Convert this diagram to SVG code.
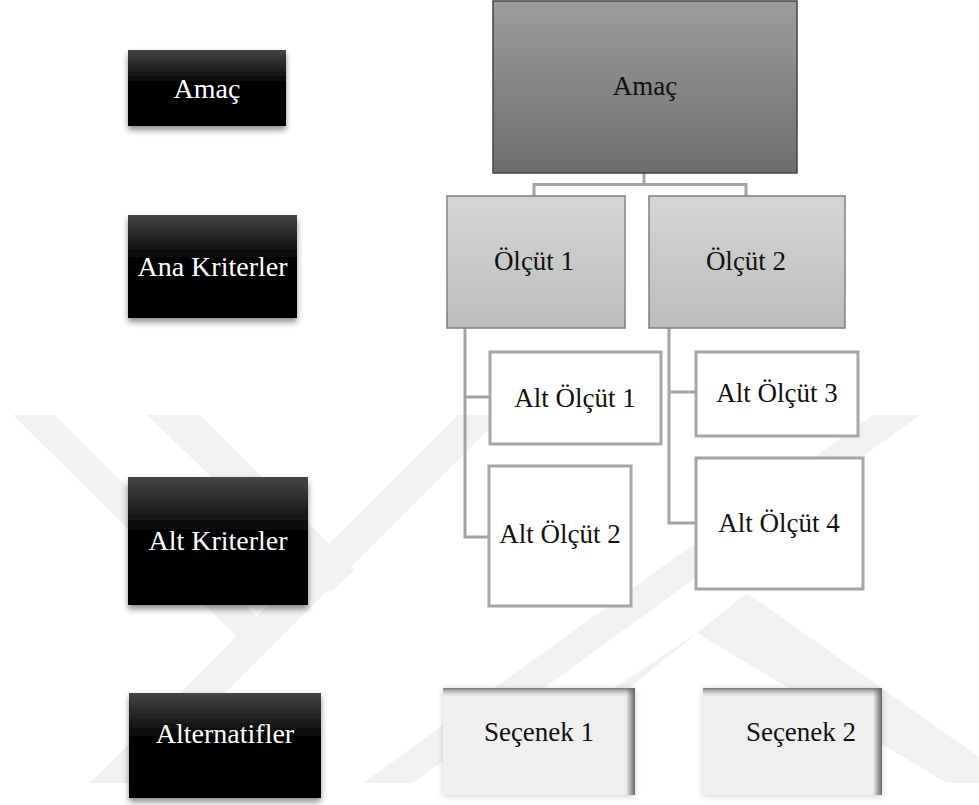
<svg xmlns="http://www.w3.org/2000/svg" width="979" height="805" viewBox="0 0 979 805">
<defs>
<linearGradient id="gBlack" x1="0" y1="0" x2="0" y2="1">
<stop offset="0" stop-color="#464646"/>
<stop offset="0.45" stop-color="#000"/>
<stop offset="1" stop-color="#000"/>
</linearGradient>
<linearGradient id="gTop" x1="0" y1="0" x2="0" y2="1">
<stop offset="0" stop-color="#9c9c9c"/>
<stop offset="1" stop-color="#6e6e6e"/>
</linearGradient>
<linearGradient id="gMid" x1="0" y1="0" x2="0" y2="1">
<stop offset="0" stop-color="#d6d6d6"/>
<stop offset="1" stop-color="#bcbcbc"/>
</linearGradient>
<linearGradient id="gInTop" x1="0" y1="0" x2="0" y2="1">
<stop offset="0" stop-color="#777" stop-opacity="1"/>
<stop offset="1" stop-color="#efefef" stop-opacity="0"/>
</linearGradient>
<linearGradient id="gInRight" x1="0" y1="0" x2="1" y2="0">
<stop offset="0" stop-color="#666" stop-opacity="0"/>
<stop offset="1" stop-color="#666" stop-opacity="1"/>
</linearGradient>
<filter id="fShadow" x="-10%" y="-10%" width="120%" height="130%">
<feDropShadow dx="0" dy="4" stdDeviation="3" flood-color="#000" flood-opacity="0.45"/>
</filter>
<filter id="fGlow" x="-10%" y="-10%" width="120%" height="125%">
<feDropShadow dx="0" dy="1" stdDeviation="3" flood-color="#000" flood-opacity="0.2"/>
</filter>
</defs>
<style>
.wm{fill:#f1f1f1}
.blk{fill:url(#gBlack);filter:url(#fShadow)}
.lt{font-family:"Liberation Serif","Times New Roman",serif;font-size:28px;fill:#fff;text-anchor:middle}
.rt{font-family:"Liberation Serif","Times New Roman",serif;font-size:27px;fill:#111;text-anchor:middle}
.sub{fill:#fff;stroke:#a6a6a6;stroke-width:3}
.mid{fill:url(#gMid);stroke:#808080;stroke-width:1.5}
.con{fill:none;stroke:#a3a3a3;stroke-width:3}
.sec{fill:#efefef;filter:url(#fGlow)}
</style>
<rect width="979" height="805" fill="#fff"/>
<g id="watermark">
<polygon class="wm" points="13,415 55,415 262,622 240,640"/>
<polygon class="wm" points="147,415 200,415 355,570 330,592"/>
<polygon class="wm" points="90,783 135,783 503,415 458,415"/>
<polygon class="wm" points="363,783 413,783 920,415 873,415"/>
<polygon class="wm" points="470,783 512,783 747,593 697,633"/>
<polygon class="wm" points="697,633 747,593 979,757 979,783 947,783"/>
</g>
<g id="connectors">
<path class="con" d="M644,173 V184.5 M534,196 V184.5 H746 V196"/>
<path class="con" d="M465,328 V537 H489 M465,397 H490"/>
<path class="con" d="M669,328 V523 H696 M669,392 H696"/>
</g>
<g id="lbl-amac">
<rect class="blk" x="128" y="50" width="158" height="76"/>
<text class="lt" x="207" y="98">Amaç</text>
</g>
<g id="lbl-ana">
<rect class="blk" x="128" y="215" width="169" height="103"/>
<text class="lt" x="212.5" y="276">Ana Kriterler</text>
</g>
<g id="lbl-alt">
<rect class="blk" x="128" y="477" width="180" height="128"/>
<text class="lt" x="218" y="550">Alt Kriterler</text>
</g>
<g id="lbl-alternatifler">
<rect class="blk" x="129" y="693" width="192" height="105"/>
<text class="lt" x="225" y="743">Alternatifler</text>
</g>
<g id="amac">
<rect x="493" y="1" width="304" height="172" fill="url(#gTop)" stroke="#454545" stroke-width="1.5"/>
<text class="rt" x="645" y="95">Amaç</text>
</g>
<g id="olcut1">
<rect class="mid" x="447" y="196" width="178" height="132"/>
<text class="rt" x="534" y="270">Ölçüt 1</text>
</g>
<g id="olcut2">
<rect class="mid" x="649" y="196" width="196" height="132"/>
<text class="rt" x="746" y="270">Ölçüt 2</text>
</g>
<g id="alt1">
<rect class="sub" x="490" y="352" width="171" height="92"/>
<text class="rt" x="575" y="407">Alt Ölçüt 1</text>
</g>
<g id="alt2">
<rect class="sub" x="489" y="466" width="142" height="140"/>
<text class="rt" x="560" y="543">Alt Ölçüt 2</text>
</g>
<g id="alt3">
<rect class="sub" x="696" y="352" width="162" height="84"/>
<text class="rt" x="777" y="402">Alt Ölçüt 3</text>
</g>
<g id="alt4">
<rect class="sub" x="696" y="458" width="167" height="131"/>
<text class="rt" x="779" y="532">Alt Ölçüt 4</text>
</g>
<g id="secenek1">
<rect class="sec" x="443" y="688" width="192" height="107"/>
<rect x="443" y="688" width="192" height="10" fill="url(#gInTop)"/>
<rect x="626" y="688" width="9" height="107" fill="url(#gInRight)"/>
<text class="rt" x="539" y="741" font-size="28">Seçenek 1</text>
</g>
<g id="secenek2">
<rect class="sec" x="703" y="688" width="179" height="107"/>
<rect x="703" y="688" width="179" height="10" fill="url(#gInTop)"/>
<rect x="873" y="688" width="9" height="107" fill="url(#gInRight)"/>
<text class="rt" x="801" y="741" font-size="28">Seçenek 2</text>
</g>
</svg>
